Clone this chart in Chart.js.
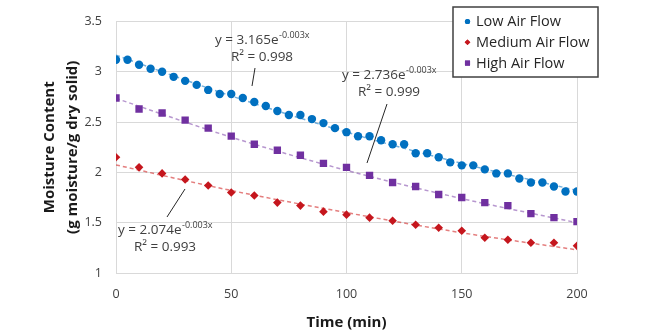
<!DOCTYPE html>
<html>
<head>
<meta charset="utf-8">
<script src="https://cdn.jsdelivr.net/npm/chart.js@4"></script>
<style>
  html, body { margin: 0; padding: 0; background: #fff; }
  #wrap { width: 656px; height: 334px; }
</style>
</head>
<body>
<div id="wrap"><canvas id="c" width="656" height="334"></canvas></div>
<script>
const timeLow = [0,5,10,15,20,25,30,35,40,45,50,55,60,65,70,75,80,85,90,95,100,105,110,115,120,125,130,135,140,145,150,155,160,165,170,175,180,185,190,195,200];
const lowValues = [3.12,3.12,3.07,3.03,3.00,2.95,2.91,2.87,2.82,2.78,2.78,2.74,2.70,2.66,2.61,2.57,2.57,2.53,2.49,2.44,2.40,2.36,2.36,2.32,2.28,2.28,2.19,2.19,2.15,2.10,2.07,2.07,2.03,1.99,1.99,1.94,1.90,1.90,1.86,1.81,1.81];
const timeMedHigh = [0,10,20,30,40,50,60,70,80,90,100,110,120,130,140,150,160,170,180,190,200];
const mediumValues = [2.15,2.05,1.99,1.93,1.87,1.80,1.77,1.70,1.67,1.61,1.58,1.55,1.52,1.48,1.45,1.42,1.35,1.33,1.30,1.30,1.27];
const highValues = [2.74,2.63,2.59,2.52,2.44,2.36,2.28,2.22,2.17,2.09,2.05,1.97,1.90,1.86,1.78,1.75,1.70,1.67,1.59,1.55,1.51];
const trendTimes = [0,50,100,150,200];
const lowTrend = [3.165,2.76,2.40,2.09,1.82];
const mediumTrend = [2.074,1.82,1.60,1.40,1.23];
const highTrend = [2.736,2.35,2.02,1.74,1.50];
const xTicks = [0,50,100,150,200];
const yTicks = [1,1.5,2,2.5,3,3.5];
const seriesNames = ['Low Air Flow','Medium Air Flow','High Air Flow'];
const equations = [
  {coef:'y = 3.165e', exp:'-0.003x', r2:'R² = 0.998'},
  {coef:'y = 2.736e', exp:'-0.003x', r2:'R² = 0.999'},
  {coef:'y = 2.074e', exp:'-0.003x', r2:'R² = 0.993'}
];

const BLUE = '#0070C0', RED = '#C5161D', PURPLE = '#7030A0';
const FONT = "'Open Sans', 'DejaVu Sans', sans-serif";

const pts = (xs, ys) => xs.map((x, i) => ({x, y: ys[i]}));

const legendPlugin = {
  id: 'boxLegend',
  afterDraw(chart) {
    const ctx = chart.ctx;
    const bx = 453, by = 7, bw = 145, bh = 70;
    ctx.save();
    ctx.fillStyle = '#fff';
    ctx.fillRect(bx, by, bw, bh);
    ctx.strokeStyle = '#404040';
    ctx.lineWidth = 1.5;
    ctx.strokeRect(bx, by, bw, bh);
    const items = [
      {label: seriesNames[0], color: BLUE, style: 'circle', r: 2.6},
      {label: seriesNames[1], color: RED, style: 'rectRot', r: 2.8},
      {label: seriesNames[2], color: PURPLE, style: 'rect', r: 3.6}
    ];
    ctx.font = "14.5px " + FONT;
    ctx.textBaseline = 'middle';
    items.forEach((it, i) => {
      const y = 21.5 + i * 20.8;
      ctx.fillStyle = it.color;
      Chart.helpers.drawPoint(ctx, {pointStyle: it.style, radius: it.r, borderWidth: 0}, 467.5, y);
      ctx.fill();
      ctx.fillStyle = '#262626';
      ctx.fillText(it.label, 476, y + 0.5);
    });
    ctx.restore();
  }
};

const annotationPlugin = {
  id: 'eqAnnotations',
  afterDatasetsDraw(chart) {
    const ctx = chart.ctx;
    const spots = [
      {tx: 215, ty: 40, rx: 262, ry: 57, line: [255, 68, 252, 86]},
      {tx: 342, ty: 75, rx: 389, ry: 92, line: [387, 104, 367, 163]},
      {tx: 118, ty: 230, rx: 165, ry: 247, line: [185, 189, 167, 217]}
    ];
    ctx.save();
    spots.forEach((s, i) => {
      const e = equations[i];
      ctx.strokeStyle = '#262626';
      ctx.lineWidth = 1;
      ctx.beginPath();
      ctx.moveTo(s.line[0], s.line[1]);
      ctx.lineTo(s.line[2], s.line[3]);
      ctx.stroke();
      ctx.fillStyle = '#404040';
      ctx.textBaseline = 'middle';
      ctx.textAlign = 'left';
      ctx.font = "13.5px " + FONT;
      ctx.fillText(e.coef, s.tx, s.ty);
      const w = ctx.measureText(e.coef).width;
      ctx.font = "9px " + FONT;
      ctx.fillText(e.exp, s.tx + w + 0.5, s.ty - 4.5);
      ctx.font = "13.5px " + FONT;
      ctx.textAlign = 'center';
      ctx.fillText(e.r2, s.rx, s.ry);
    });
    ctx.restore();
  }
};

const trendStyle = (color) => ({
  type: 'line',
  borderColor: color,
  borderWidth: 1.5,
  borderDash: [4, 3],
  pointRadius: 0,
  fill: false,
  cubicInterpolationMode: 'monotone',
  showLine: true,
  order: 5
});

new Chart(document.getElementById('c'), {
  type: 'scatter',
  data: {
    datasets: [
      Object.assign({label: 'lowTrend', data: pts(trendTimes, lowTrend)}, trendStyle('rgba(0,112,192,0.55)')),
      Object.assign({label: 'mediumTrend', data: pts(trendTimes, mediumTrend)}, trendStyle('rgba(210,40,40,0.6)')),
      Object.assign({label: 'highTrend', data: pts(trendTimes, highTrend)}, trendStyle('rgba(112,48,160,0.5)')),
      {label: seriesNames[0], data: pts(timeLow, lowValues), backgroundColor: BLUE, borderColor: BLUE, pointStyle: 'circle', pointRadius: 4.2, borderWidth: 0, order: 1},
      {label: seriesNames[1], data: pts(timeMedHigh, mediumValues), backgroundColor: RED, borderColor: RED, pointStyle: 'rectRot', pointRadius: 4.3, borderWidth: 0, order: 1},
      {label: seriesNames[2], data: pts(timeMedHigh, highValues), backgroundColor: PURPLE, borderColor: PURPLE, pointStyle: 'rect', pointRadius: 5.2, borderWidth: 0, order: 1}
    ]
  },
  options: {
    responsive: false,
    animation: false,
    devicePixelRatio: 1,
    layout: {padding: {left: 0, right: 79, top: 18, bottom: 0}},
    plugins: {legend: {display: false}, tooltip: {enabled: false}},
    scales: {
      x: {
        type: 'linear', min: 0, max: 200,
        afterBuildTicks: (s) => { s.ticks = xTicks.map(v => ({value: v})); },
        afterFit: (s) => { s.height = 61; },
        grid: {color: '#d9d9d9', lineWidth: 1, drawTicks: false},
        border: {color: '#d9d9d9'},
        ticks: {color: '#404040', font: {family: FONT, size: 12.5}, padding: 14, callback: (v) => String(v)},
        title: {display: true, text: 'Time (min)', color: '#1a1a1a', font: {family: FONT, size: 15, weight: 'bold'}, padding: {top: 2, bottom: 2}}
      },
      y: {
        type: 'linear', min: 1, max: 3.5,
        afterBuildTicks: (s) => { s.ticks = yTicks.map(v => ({value: v})); },
        afterFit: (s) => { s.width = 116; },
        grid: {color: '#d9d9d9', lineWidth: 1, drawTicks: false},
        border: {color: '#d9d9d9'},
        ticks: {color: '#404040', font: {family: FONT, size: 12.5}, padding: 14, callback: (v) => String(v)},
        title: {display: true, text: ['Moisture Content', '(g moisture/g dry solid)'], color: '#1a1a1a', font: {family: FONT, size: 15, weight: 'bold', lineHeight: 1.53}, padding: {top: 38, bottom: 0}}
      }
    }
  },
  plugins: [annotationPlugin, legendPlugin]
});
</script>
</body>
</html>
